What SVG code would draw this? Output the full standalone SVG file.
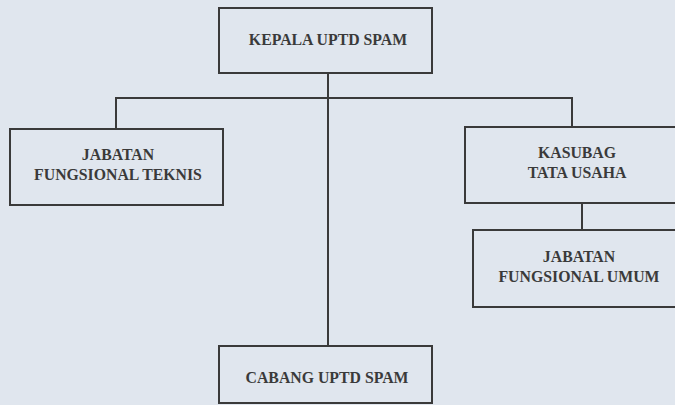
<svg xmlns="http://www.w3.org/2000/svg" width="675" height="405" viewBox="0 0 675 405">
<style>
.box{fill:none;stroke:#3a3a3a;stroke-width:2}
.ln{fill:none;stroke:#3a3a3a;stroke-width:2}
.t{font-family:'Liberation Serif','Times New Roman',serif;font-weight:700;font-size:15.8px;fill:#3a3a3a;text-anchor:middle}
</style>
<rect width="675" height="405" fill="#e0e6ee"/>
<g id="connectors">
<path class="ln" d="M328 73V346"/>
<path class="ln" d="M116 129V98H572V127"/>
<path class="ln" d="M582 203V230"/>
</g>
<g id="kepala"><rect class="box" x="219" y="8" width="213" height="65"/><text class="t" x="328" y="45">KEPALA UPTD SPAM</text></g>
<g id="teknis"><rect class="box" x="10" y="129" width="213" height="76"/><text class="t" x="118" y="160">JABATAN</text><text class="t" x="118" y="180">FUNGSIONAL TEKNIS</text></g>
<g id="kasubag"><rect class="box" x="465" y="127" width="212" height="76"/><text class="t" x="577" y="158">KASUBAG</text><text class="t" x="577" y="178">TATA USAHA</text></g>
<g id="umum"><rect class="box" x="473" y="230" width="204" height="77"/><text class="t" x="579" y="262">JABATAN</text><text class="t" x="579" y="282">FUNGSIONAL UMUM</text></g>
<g id="cabang"><rect class="box" x="219" y="346" width="213" height="57"/><text class="t" x="327" y="383">CABANG UPTD SPAM</text></g>
</svg>
